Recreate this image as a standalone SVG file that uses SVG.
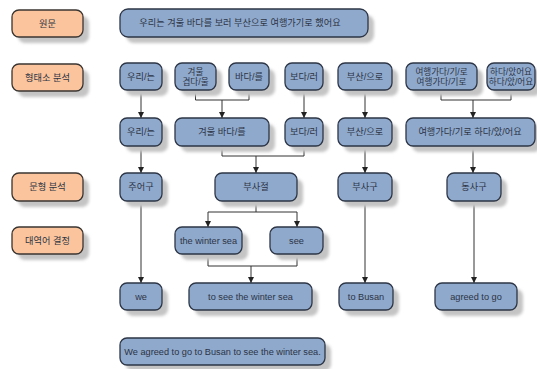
<svg xmlns="http://www.w3.org/2000/svg" width="537" height="369" viewBox="0 0 537 369">
<style>
.b{fill:#8fa9cd;stroke:#2d3646;stroke-width:1.3}
.o{fill:#fbc49c;stroke:#3a3430;stroke-width:1.3}
.s{fill:#c4c4c4;filter:url(#bl)}
text{font-family:"Liberation Sans","Noto Sans CJK KR",sans-serif;font-size:9.2px;fill:#2c3444;text-anchor:middle;dominant-baseline:central}
.k2{font-size:8.6px}
.c{fill:none;stroke:#333;stroke-width:1}
</style>
<defs>
<filter id="bl" x="-20%" y="-40%" width="140%" height="180%"><feGaussianBlur stdDeviation="1.5"/></filter>
<marker id="ar" viewBox="0 0 6 6" refX="6" refY="3" markerWidth="6" markerHeight="6" orient="auto" markerUnits="userSpaceOnUse"><path d="M0,0 L6,3 L0,6 Z" fill="#222"/></marker>
</defs>
<rect width="537" height="369" fill="#fff"/>

<g id="connectors">
<path class="c" d="M141,90 V118" marker-end="url(#ar)"/>
<path class="c" d="M195.5,90 V100 H249 V90"/>
<path class="c" d="M222,100 V118" marker-end="url(#ar)"/>
<path class="c" d="M304,90 V118" marker-end="url(#ar)"/>
<path class="c" d="M365,90 V118" marker-end="url(#ar)"/>
<path class="c" d="M441,90 V100 H511 V90"/>
<path class="c" d="M473,100 V118" marker-end="url(#ar)"/>
<path class="c" d="M141,146 V173" marker-end="url(#ar)"/>
<path class="c" d="M222,146 V156 H304 V146"/>
<path class="c" d="M256,156 V173" marker-end="url(#ar)"/>
<path class="c" d="M365,146 V173" marker-end="url(#ar)"/>
<path class="c" d="M473,146 V173" marker-end="url(#ar)"/>
<path class="c" d="M256,201 V212 M208,212 H297"/>
<path class="c" d="M208,212 V227" marker-end="url(#ar)"/>
<path class="c" d="M297,212 V227" marker-end="url(#ar)"/>
<path class="c" d="M141,201 V283" marker-end="url(#ar)"/>
<path class="c" d="M208,254 V266 H297 V254"/>
<path class="c" d="M251,266 V283" marker-end="url(#ar)"/>
<path class="c" d="M365,201 V283" marker-end="url(#ar)"/>
<path class="c" d="M474,201 V283" marker-end="url(#ar)"/>
</g>

<g id="label-original"><rect class="s" x="18" y="16" width="71" height="27" rx="7"/><rect class="o" x="12" y="10" width="71" height="27" rx="7"/><text x="47.5" y="23.5">원문</text></g>
<g id="label-morph"><rect class="s" x="18" y="70" width="71" height="27" rx="7"/><rect class="o" x="12" y="64" width="71" height="27" rx="7"/><text x="47.5" y="77.5">형태소 분석</text></g>
<g id="label-pattern"><rect class="s" x="18" y="179" width="71" height="28" rx="7"/><rect class="o" x="12" y="173" width="71" height="28" rx="7"/><text x="47.5" y="187">문형 분석</text></g>
<g id="label-target"><rect class="s" x="18" y="233" width="71" height="27" rx="7"/><rect class="o" x="12" y="227" width="71" height="27" rx="7"/><text x="47.5" y="240.5">대역어 결정</text></g>

<g id="sentence"><rect class="s" x="126" y="15" width="248" height="28" rx="8"/><rect class="b" x="120" y="9" width="248" height="28" rx="8"/><text x="240" y="23">우리는 겨울 바다를 보러 부산으로 여행가기로 했어요</text></g>

<g id="m1"><rect class="s" x="126" y="69" width="42" height="27" rx="7"/><rect class="b" x="120" y="63" width="42" height="27" rx="7"/><text x="141" y="76.5">우리/는</text></g>
<g id="m2"><rect class="s" x="181" y="69" width="41" height="27" rx="7"/><rect class="b" x="175" y="63" width="41" height="27" rx="7"/><text class="k2" x="195.5" y="71.5">겨울</text><text class="k2" x="195.5" y="81.5">겹다/울</text></g>
<g id="m3"><rect class="s" x="235" y="69" width="40" height="27" rx="7"/><rect class="b" x="229" y="63" width="40" height="27" rx="7"/><text x="249" y="76.5">바다/를</text></g>
<g id="m4"><rect class="s" x="291" y="69" width="38" height="27" rx="7"/><rect class="b" x="285" y="63" width="38" height="27" rx="7"/><text x="304" y="76.5">보다/러</text></g>
<g id="m5"><rect class="s" x="344" y="69" width="54" height="27" rx="7"/><rect class="b" x="338" y="63" width="54" height="27" rx="7"/><text x="365" y="76.5">부산/으로</text></g>
<g id="m6"><rect class="s" x="412" y="69" width="71" height="27" rx="7"/><rect class="b" x="406" y="63" width="71" height="27" rx="7"/><text class="k2" x="441.5" y="71.5">여행가다/기/로</text><text class="k2" x="441.5" y="81.5">여행가다/기로</text></g>
<g id="m7"><rect class="s" x="493" y="69" width="48" height="27" rx="7"/><rect class="b" x="487" y="63" width="48" height="27" rx="7"/><text class="k2" x="511" y="71.5">하다/았어요</text><text class="k2" x="511" y="81.5">하다/았/어요</text></g>

<g id="p1"><rect class="s" x="126" y="124" width="42" height="28" rx="7"/><rect class="b" x="120" y="118" width="42" height="28" rx="7"/><text x="141" y="132">우리/는</text></g>
<g id="p2"><rect class="s" x="181" y="124" width="94" height="28" rx="7"/><rect class="b" x="175" y="118" width="94" height="28" rx="7"/><text x="222" y="132">겨울 바다/를</text></g>
<g id="p3"><rect class="s" x="291" y="124" width="38" height="28" rx="7"/><rect class="b" x="285" y="118" width="38" height="28" rx="7"/><text x="304" y="132">보다/러</text></g>
<g id="p4"><rect class="s" x="344" y="124" width="54" height="28" rx="7"/><rect class="b" x="338" y="118" width="54" height="28" rx="7"/><text x="365" y="132">부산/으로</text></g>
<g id="p5"><rect class="s" x="412" y="124" width="129" height="28" rx="7"/><rect class="b" x="406" y="118" width="129" height="28" rx="7"/><text x="470" y="132">여행가다/기로 하다/았/어요</text></g>

<g id="subj"><rect class="s" x="126" y="179" width="42" height="28" rx="7"/><rect class="b" x="120" y="173" width="42" height="28" rx="7"/><text x="141" y="187">주어구</text></g>
<g id="advclause"><rect class="s" x="221" y="179" width="82" height="28" rx="7"/><rect class="b" x="215" y="173" width="82" height="28" rx="7"/><text x="256" y="187">부사절</text></g>
<g id="advphrase"><rect class="s" x="344" y="179" width="54" height="28" rx="7"/><rect class="b" x="338" y="173" width="54" height="28" rx="7"/><text x="365" y="187">부사구</text></g>
<g id="verbphrase"><rect class="s" x="453" y="179" width="54" height="28" rx="7"/><rect class="b" x="447" y="173" width="54" height="28" rx="7"/><text x="474" y="187">동사구</text></g>

<g id="winter"><rect class="s" x="181" y="233" width="67" height="27" rx="7"/><rect class="b" x="175" y="227" width="67" height="27" rx="7"/><text x="208.5" y="240.5">the winter sea</text></g>
<g id="see"><rect class="s" x="276" y="233" width="53" height="27" rx="7"/><rect class="b" x="270" y="227" width="53" height="27" rx="7"/><text x="296.5" y="240.5">see</text></g>

<g id="we"><rect class="s" x="126" y="289" width="42" height="27" rx="7"/><rect class="b" x="120" y="283" width="42" height="27" rx="7"/><text x="141" y="296.5">we</text></g>
<g id="toseesea"><rect class="s" x="195" y="289" width="123" height="27" rx="7"/><rect class="b" x="189" y="283" width="123" height="27" rx="7"/><text x="250.5" y="296.5">to see the winter sea</text></g>
<g id="tobusan"><rect class="s" x="345" y="289" width="54" height="27" rx="7"/><rect class="b" x="339" y="283" width="54" height="27" rx="7"/><text x="366" y="296.5">to Busan</text></g>
<g id="agreed"><rect class="s" x="441" y="289" width="82" height="27" rx="7"/><rect class="b" x="435" y="283" width="82" height="27" rx="7"/><text x="476" y="296.5">agreed to go</text></g>

<g id="translation"><rect class="s" x="126" y="344" width="205" height="27" rx="7"/><rect class="b" x="120" y="338" width="205" height="27" rx="7"/><text x="222.5" y="351.5">We agreed to go to Busan to see the winter sea.</text></g>
</svg>
